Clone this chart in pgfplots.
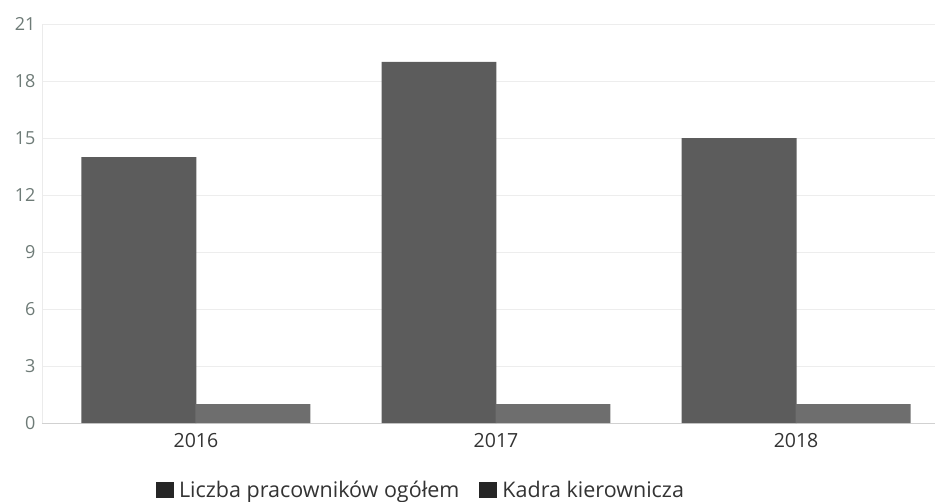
\documentclass[border=0pt]{standalone}
\usepackage{pgfplots}
\pgfplotsset{compat=1.18}
\usepackage{fontspec}
\setmainfont{Open Sans}
\definecolor{barA}{HTML}{5C5C5C}
\definecolor{barB}{HTML}{6E6E6E}
\definecolor{tickgray}{HTML}{6E7B77}
\definecolor{txt}{HTML}{333333}
\begin{document}
\begin{tikzpicture}[x=1pt,y=1pt]
\useasboundingbox (-42,-78) rectangle (897,423);
\begin{axis}[
  at={(0,0)}, anchor=south west,
  scale only axis, width=893pt, height=399pt,
  xmin=-0.513, xmax=2.463, ymin=0, ymax=21,
  ytick={0,3,...,21},
  xtick={0,1,2}, xticklabels={2016,2017,2018},
  ymajorgrids, grid style={draw=black!7, line width=0.8pt},
  axis x line*=bottom, axis y line*=left,
  x axis line style={draw=black!18, line width=0.8pt},
  y axis line style={draw=black!8},
  major tick length=0pt,
  /pgf/number format/assume math mode=true,
  yticklabel style={font=\fontsize{18}{20}\selectfont, text=tickgray, xshift=-3pt},
  xticklabel style={font=\fontsize{19.5}{22}\selectfont, text=txt, yshift=-7pt},
  ybar, bar width=0.383,
  legend columns=2,
  legend style={at={(379pt,-67pt)}, anchor=center, draw=none, fill=none,
    font=\fontsize{21.5}{24}\selectfont, text=txt,
    /tikz/every odd column/.append style={column sep=3pt},
    /tikz/every even column/.append style={column sep=18pt}},
  legend image code/.code={\fill[black!85] (0pt,-8pt) rectangle (18pt,8pt);},
]
\addplot[fill=barA, draw=none, bar shift=-0.19] coordinates {(0,14) (1,19) (2,15)};
\addplot[fill=barB, draw=none, bar shift=0.19] coordinates {(0,1) (1,1) (2,1)};
\legend{Liczba pracowników ogółem, Kadra kierownicza}
\end{axis}
\end{tikzpicture}
\end{document}
